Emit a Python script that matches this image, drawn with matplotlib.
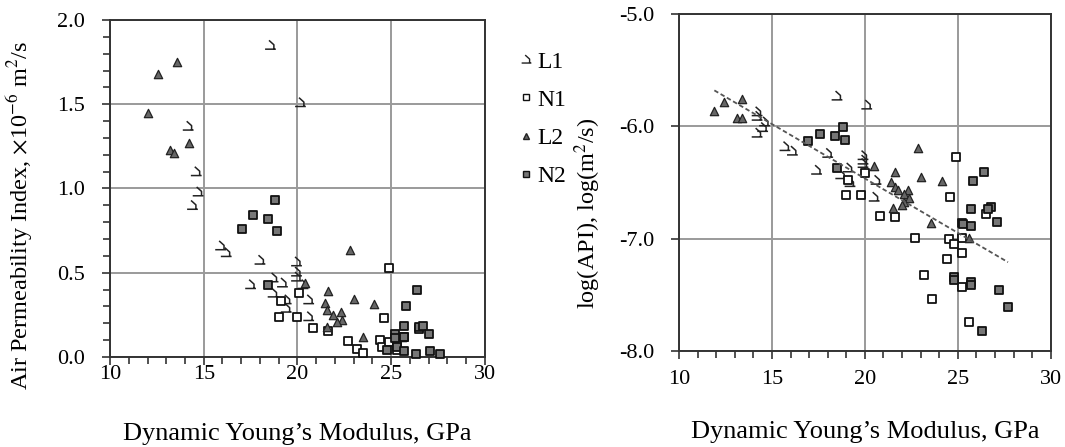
import numpy as np
import matplotlib
matplotlib.use('Agg')
import matplotlib.pyplot as plt
from matplotlib.path import Path
from matplotlib.lines import Line2D

plt.rcParams['font.family'] = ['Liberation Serif', 'DejaVu Serif']
plt.rcParams['mathtext.fontset'] = 'stix'

# left: air permeability index (x1e-6 m2/s) vs dynamic modulus (GPa)
l1_x = [18.56, 20.16, 14.17, 14.6, 14.7, 14.4, 15.9, 16.2, 18.0, 19.95, 19.95, 19.95,
        17.5, 18.7, 19.2, 20.3, 18.7, 19.4, 19.4, 20.6, 20.6]
l1_y = [1.85, 1.51, 1.37, 1.10, 0.98, 0.90, 0.66, 0.62, 0.575, 0.565, 0.505, 0.475,
        0.43, 0.47, 0.44, 0.43, 0.38, 0.34, 0.29, 0.34, 0.24]
n1_x = [24.9, 20.1, 19.1, 19.04, 19.95, 20.85, 21.65, 22.7, 24.6, 23.2, 23.5, 24.4,
        24.5, 24.9, 25.3, 25.3, 25.7, 26.5]
n1_y = [0.53, 0.38, 0.33, 0.24, 0.24, 0.17, 0.155, 0.095, 0.23, 0.05, 0.025, 0.10,
        0.06, 0.09, 0.07, 0.04, 0.12, 0.165]
l2_x = [13.58, 12.57, 12.03, 14.22, 13.2, 13.4, 22.8, 20.4, 21.65, 23.0, 24.06, 21.45,
        21.6, 22.3, 22.4, 22.1, 21.9, 21.55, 23.5, 25.6]
l2_y = [1.75, 1.68, 1.45, 1.27, 1.23, 1.21, 0.635, 0.44, 0.39, 0.345, 0.315, 0.32,
        0.28, 0.27, 0.22, 0.21, 0.25, 0.18, 0.12, 0.12]
n2_x = [18.8, 17.65, 18.45, 17.06, 18.93, 18.45, 26.4, 25.8, 25.7, 26.5, 26.7, 27.0,
        25.2, 25.7, 25.2, 24.8, 25.3, 25.7, 26.3, 27.06, 27.6]
n2_y = [0.93, 0.84, 0.82, 0.76, 0.75, 0.43, 0.40, 0.30, 0.185, 0.18, 0.185, 0.135,
        0.135, 0.12, 0.11, 0.04, 0.06, 0.035, 0.02, 0.035, 0.02]

# right: log(API) vs dynamic modulus
l1_xr = [18.5, 20.1, 14.2, 14.2, 14.6, 14.5, 14.2, 15.7, 16.1, 18.0, 19.9, 19.9, 19.9,
         17.4, 19.1, 18.7, 19.2, 20.6, 20.5]
l1_yr = [-5.73, -5.81, -5.87, -5.91, -5.96, -6.01, -6.06, -6.18, -6.22, -6.24, -6.26,
         -6.30, -6.33, -6.39, -6.37, -6.43, -6.50, -6.48, -6.63]
n1_xr = [24.9, 20.0, 19.1, 19.0, 19.8, 24.6, 20.8, 21.6, 26.5, 22.7, 24.5, 25.2, 24.8,
         25.2, 24.4, 23.2, 25.2, 23.6, 25.6]
n1_yr = [-6.27, -6.42, -6.48, -6.61, -6.61, -6.63, -6.80, -6.81, -6.78, -6.99, -7.0,
         -6.99, -7.05, -7.13, -7.18, -7.32, -7.43, -7.54, -7.74]
l2_xr = [13.4, 12.4, 11.9, 13.1, 13.4, 22.85, 20.5, 21.6, 23.0, 24.15, 21.4, 21.6, 21.8,
         22.3, 22.1, 22.4, 22.1, 22.0, 21.5, 23.55, 25.6]
l2_yr = [-5.76, -5.78, -5.86, -5.93, -5.93, -6.19, -6.35, -6.41, -6.45, -6.49, -6.50,
         -6.54, -6.57, -6.57, -6.60, -6.64, -6.67, -6.70, -6.73, -6.86, -6.99]
n2_xr = [18.8, 17.6, 18.4, 18.95, 16.95, 18.5, 26.4, 25.8, 25.7, 26.8, 26.6, 27.1, 25.2,
         25.3, 25.7, 24.8, 24.8, 25.7, 25.7, 27.2, 27.7, 26.3]
n2_yr = [-6.01, -6.07, -6.09, -6.12, -6.13, -6.37, -6.41, -6.49, -6.74, -6.72, -6.74,
         -6.85, -6.86, -6.87, -6.89, -7.34, -7.37, -7.39, -7.41, -7.46, -7.61, -7.82]

labels = ['L1', 'N1', 'L2', 'N2']

# the hook-like open marker used for L1 in the original
hook = Path([(-0.15, 0.5), (0.35, 0.05), (0.35, -0.4), (-0.55, -0.4), (0.55, -0.4)],
            [Path.MOVETO, Path.LINETO, Path.LINETO, Path.MOVETO, Path.LINETO])

styles = {
    'L1': dict(marker=hook, s=60, facecolors='none', edgecolors='#222222', linewidths=1.1),
    'N1': dict(marker='s', s=40, facecolors='white', edgecolors='#111111', linewidths=1.3),
    'L2': dict(marker='^', s=36, facecolors='#666666', edgecolors='#222222', linewidths=0.9),
    'N2': dict(marker='s', s=40, facecolors='#767676', edgecolors='#111111', linewidths=1.3),
}

fig = plt.figure(figsize=(10.65, 4.47), dpi=100)
ax1 = fig.add_axes([0.1033, 0.2013, 0.352, 0.754])
ax2 = fig.add_axes([0.6376, 0.2148, 0.349, 0.754])

left_sets = [(l1_x, l1_y), (n1_x, n1_y), (l2_x, l2_y), (n2_x, n2_y)]
right_sets = [(l1_xr, l1_yr), (n1_xr, n1_yr), (l2_xr, l2_yr), (n2_xr, n2_yr)]

for lab, (x, y) in zip(labels, left_sets):
    ax1.scatter(x, y, zorder=3, clip_on=False, **styles[lab])
for lab, (x, y) in zip(labels, right_sets):
    ax2.scatter(x, y, zorder=3, clip_on=False, **styles[lab])

# linear trend over all right-hand points
all_x = np.concatenate([np.array(a[0]) for a in right_sets])
all_y = np.concatenate([np.array(a[1]) for a in right_sets])
k, b = np.polyfit(all_x, all_y, 1)
xx = np.array([all_x.min(), all_x.max()])
ax2.plot(xx, k * xx + b, color='#555555', lw=1.3, ls=(0, (2.5, 1.5)), zorder=4)

for ax in (ax1, ax2):
    ax.set_xlim(10, 30)
    ax.set_xticks([10, 15, 20, 25, 30])
    ax.set_xticks(np.arange(10, 31, 1), minor=True)
    ax.grid(True, which='major', color='#9a9a9a', lw=1.4, zorder=0)
    ax.set_axisbelow(True)
    for sp in ax.spines.values():
        sp.set_color('#333333')
        sp.set_linewidth(1.4)
    ax.tick_params(which='both', direction='out', color='#222222', width=1.1,
                   labelsize=16)
    ax.tick_params(which='major', length=6)
    ax.tick_params(which='minor', length=5)

ax1.set_ylim(0, 2.0)
ax1.set_yticks(np.arange(0, 2.01, 0.5))
ax1.set_yticks(np.arange(0, 2.01, 0.1), minor=True)
ax1.yaxis.set_major_formatter(matplotlib.ticker.FormatStrFormatter('%.1f'))
ax1.tick_params(axis='y', pad=12)
ax1.tick_params(axis='x', pad=0)
ax1.set_xlabel("Dynamic Young\u2019s Modulus, GPa", fontsize=19, labelpad=28)
ax1.set_ylabel(r'Air Permeability Index, $\times$10$^{-6}$ m$^{2}$/s', fontsize=17.5)
ax1.yaxis.set_label_coords(-0.2, 0.42)

ax2.set_ylim(-8.0, -5.0)
ax2.set_yticks([-8, -7, -6, -5])
ax2.yaxis.set_major_formatter(matplotlib.ticker.FormatStrFormatter('%.1f'))
ax2.tick_params(axis='y', pad=12)
ax2.tick_params(axis='x', pad=8)
ax2.set_xlabel("Dynamic Young\u2019s Modulus, GPa", fontsize=19, labelpad=23)
ax2.set_ylabel(r'log(API), log(m$^{2}$/s)', fontsize=17.5)
ax2.yaxis.set_label_coords(-0.205, 0.41)

handles = [Line2D([], [], ls='none', marker=styles[l]['marker'],
                  markersize=5 if l != 'L1' else 7,
                  markerfacecolor=styles[l]['facecolors'],
                  markeredgecolor=styles[l]['edgecolors'], markeredgewidth=1.0)
           for l in labels]
fig.legend(handles, labels, loc='upper left', bbox_to_anchor=(0.476, 0.912),
           frameon=False, fontsize=17, handlelength=0.6, handletextpad=0.2,
           labelspacing=0.7, borderpad=0)

fig.savefig('out.png', dpi=100)
